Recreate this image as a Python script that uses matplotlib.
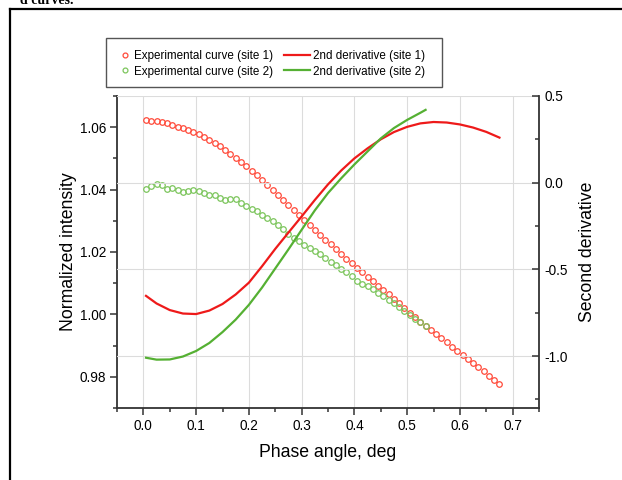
import numpy as np
import matplotlib
matplotlib.use("Agg")
import matplotlib.pyplot as plt
from matplotlib.lines import Line2D
from matplotlib.patches import Rectangle
from matplotlib.legend_handler import HandlerLine2D

plt.rcParams['font.family'] = ['Liberation Sans', 'DejaVu Sans']

# experimental curves (left axis), sampled every 0.01 deg
phase_site1 = np.round(np.arange(0.005, 0.676, 0.01), 3)
intensity_site1 = [
    1.0622, 1.0621, 1.0619, 1.0616, 1.0612, 1.0607, 1.0602, 1.0597, 1.0591, 1.0584,
    1.0577, 1.0569, 1.0560, 1.0550, 1.0539, 1.0527, 1.0515, 1.0502, 1.0489, 1.0475,
    1.0461, 1.0446, 1.0431, 1.0415, 1.0400, 1.0384, 1.0368, 1.0352, 1.0336, 1.0320,
    1.0304, 1.0288, 1.0272, 1.0256, 1.0240, 1.0225, 1.0209, 1.0194, 1.0179, 1.0164,
    1.0149, 1.0135, 1.0120, 1.0106, 1.0092, 1.0078, 1.0064, 1.0050, 1.0036, 1.0020,
    1.0005, 0.9991, 0.9977, 0.9964, 0.9950, 0.9937, 0.9923, 0.9910, 0.9896, 0.9883,
    0.9869, 0.9856, 0.9843, 0.9830, 0.9817, 0.9804, 0.9791, 0.9778,
]
phase_site2 = np.round(np.arange(0.005, 0.536, 0.01), 3)
intensity_site2 = [
    1.0403, 1.0411, 1.0419, 1.0416, 1.0401, 1.0406, 1.0398, 1.0392, 1.0396, 1.0398,
    1.0394, 1.0389, 1.0384, 1.0382, 1.0374, 1.0366, 1.0369, 1.0369, 1.0357, 1.0347,
    1.0339, 1.0331, 1.0318, 1.0309, 1.0300, 1.0288, 1.0273, 1.0259, 1.0246, 1.0236,
    1.0224, 1.0213, 1.0203, 1.0193, 1.0180, 1.0168, 1.0158, 1.0147, 1.0136, 1.0122,
    1.0106, 1.0097, 1.0090, 1.0080, 1.0070, 1.0058, 1.0046, 1.0035, 1.0024, 1.0012,
    0.9998, 0.9984, 0.9976, 0.9963,
]

# second derivatives (right axis)
deriv_x1 = [0.005, 0.025, 0.05, 0.075, 0.10, 0.125, 0.15, 0.175, 0.20, 0.225, 0.25,
            0.275, 0.30, 0.325, 0.35, 0.375, 0.40, 0.425, 0.45, 0.475, 0.50, 0.525,
            0.55, 0.575, 0.60, 0.625, 0.65, 0.675]
deriv_site1 = [-0.653, -0.697, -0.735, -0.755, -0.758, -0.738, -0.700, -0.645, -0.577,
               -0.482, -0.382, -0.288, -0.195, -0.100, -0.010, 0.070, 0.140, 0.198,
               0.250, 0.292, 0.322, 0.342, 0.350, 0.347, 0.336, 0.318, 0.293, 0.260]
deriv_x2 = [0.005, 0.025, 0.05, 0.075, 0.10, 0.125, 0.15, 0.175, 0.20, 0.225, 0.25,
            0.275, 0.30, 0.325, 0.35, 0.375, 0.40, 0.425, 0.45, 0.475, 0.50, 0.525, 0.535]
deriv_site2 = [-1.010, -1.021, -1.020, -1.003, -0.971, -0.925, -0.862, -0.790, -0.705,
               -0.605, -0.495, -0.385, -0.272, -0.160, -0.060, 0.025, 0.105, 0.180,
               0.255, 0.315, 0.362, 0.403, 0.420]

red_pt, green_pt = '#ff4a3a', '#7cc55c'
red_ln, green_ln = '#ee1a1a', '#55b033'
spine_col = '#333333'


class RightMarker(HandlerLine2D):
    # marker sits at the right end of the handle, close to the text
    def get_xdata(self, legend, xdescent, ydescent, width, height, fontsize):
        x = width - xdescent - 0.6 * fontsize
        return np.array([x, x]), np.array([x])


fig = plt.figure(figsize=(6.22, 4.8), dpi=100)
ax = fig.add_axes([117 / 622, 1 - 408 / 480, 422 / 622, 312 / 480])
ax2 = ax.twinx()

ax.plot(phase_site1, intensity_site1, 'o', ms=4.0, mfc='none', mec=red_pt, mew=0.9)
ax.plot(phase_site2, intensity_site2, 'o', ms=4.0, mfc='none', mec=green_pt, mew=0.9)
ax2.plot(deriv_x1, deriv_site1, '-', color=red_ln, lw=1.6)
ax2.plot(deriv_x2, deriv_site2, '-', color=green_ln, lw=1.6)

ax.set_xlim(-0.05, 0.75)
ax.set_ylim(0.97, 1.07)
ax2.set_ylim(-1.3, 0.5)
ax.set_xticks(np.arange(0, 0.71, 0.1))
ax.set_xticks(np.arange(-0.05, 0.76, 0.1), minor=True)
ax.set_yticks([0.98, 1.00, 1.02, 1.04, 1.06])
ax.set_yticks([0.97, 0.99, 1.01, 1.03, 1.05, 1.07], minor=True)
ax.set_yticklabels(['0.98', '1.00', '1.02', '1.04', '1.06'])
ax2.set_yticks([-1.0, -0.5, 0.0, 0.5])
ax2.set_yticks([-1.25, -0.75, -0.25, 0.25], minor=True)
ax2.set_yticklabels(['-1.0', '-0.5', '0.0', '0.5'])
ax.set_xticklabels(['0.0', '0.1', '0.2', '0.3', '0.4', '0.5', '0.6', '0.7'])

ax.xaxis.grid(True, color='#dcdcdc', lw=0.8)
ax2.yaxis.grid(True, color='#dcdcdc', lw=0.8)
ax.set_axisbelow(True)

for a in (ax, ax2):
    a.spines['top'].set_visible(False)
    for s in ('left', 'right', 'bottom'):
        a.spines[s].set_color(spine_col)
        a.spines[s].set_linewidth(1.3)
ax.spines['right'].set_visible(False)
ax2.spines['left'].set_visible(False)
ax2.spines['bottom'].set_visible(False)

ax.tick_params(axis='both', which='major', direction='out', length=5, width=1.1,
               color=spine_col, labelsize=9.8, pad=3)
ax.tick_params(axis='both', which='minor', direction='out', length=3, width=1.1,
               color=spine_col)
ax2.tick_params(axis='y', which='major', direction='in', length=5, width=1.1,
                color=spine_col, labelsize=9.8, pad=4)
ax2.tick_params(axis='y', which='minor', direction='in', length=3, width=1.1,
                color=spine_col)

ax.set_xlabel('Phase angle, deg', fontsize=12.7, labelpad=8)
ax.set_ylabel('Normalized intensity', fontsize=12.7, labelpad=1.5)
ax2.set_ylabel('Second derivative', fontsize=12.7, labelpad=8)

handles = [
    Line2D([], [], ls='none', marker='o', ms=3.5, mfc='none', mec=red_pt, mew=0.9),
    Line2D([], [], ls='none', marker='o', ms=3.5, mfc='none', mec=green_pt, mew=0.9),
    Line2D([], [], color=red_ln, lw=1.6),
    Line2D([], [], color=green_ln, lw=1.6),
]
labels = ['Experimental curve (site 1)', 'Experimental curve (site 2)',
          '2nd derivative (site 1)', '2nd derivative (site 2)']
leg = fig.legend(handles, labels, loc='upper left', ncol=2,
                 bbox_to_anchor=(105 / 622, 1 - 50 / 480), borderaxespad=0,
                 fontsize=8.4, frameon=False, handlelength=2.3, handletextpad=0.2,
                 columnspacing=0.9, labelspacing=0.3, borderpad=0,
                 handler_map={handles[0]: RightMarker(), handles[1]: RightMarker()})

# legend box
fig.add_artist(Rectangle((106 / 622, 1 - 87 / 480), 336 / 622, 49 / 480,
                         transform=fig.transFigure, fill=False, ec='#555555', lw=1.0))

# page frame and clipped caption above the figure
fig.add_artist(Line2D([9.5 / 622, 9.5 / 622], [0, 1 - 9 / 480], transform=fig.transFigure,
                      color='black', lw=1.6))
fig.add_artist(Line2D([9.5 / 622, 1], [1 - 9 / 480, 1 - 9 / 480], transform=fig.transFigure,
                      color='black', lw=1.6))
fig.text(20 / 622, 1 - 4 / 480, 'd curves.', family=['Liberation Serif', 'DejaVu Serif'],
         fontsize=10, fontweight='bold', va='baseline', ha='left')

fig.savefig('out.png', dpi=100)
